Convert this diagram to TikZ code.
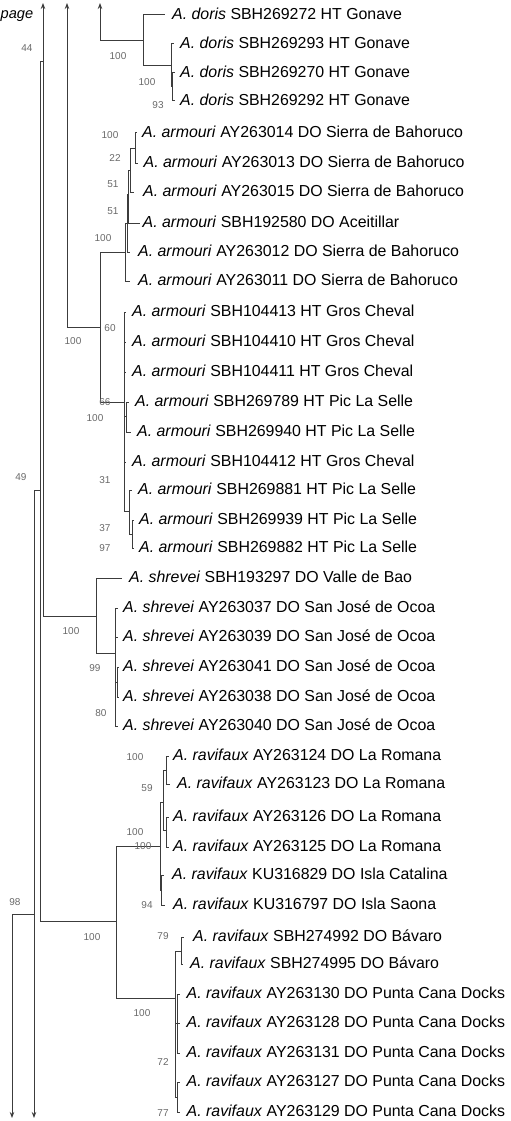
\documentclass[tikz,border=0pt]{standalone}
\usepackage{fontspec}
\setmainfont{Liberation Sans}
\usetikzlibrary{arrows.meta}
\definecolor{branch}{RGB}{60,60,60}
\definecolor{lbl}{RGB}{105,105,105}
\tikzset{
  br/.style={draw=branch, line width=1pt},
  offpage/.style={draw=branch, line width=1pt, -{Stealth[length=6pt,width=4.5pt]}},
  tiptext/.style={anchor=base west, inner sep=0pt, font=\fontsize{15.9}{18}\selectfont},
  support/.style={anchor=center, inner sep=0pt, text=lbl, font=\fontsize{10}{12}\selectfont},
}
\newcommand{\tiplab}[6]{%
  \coordinate (e#1) at (#2,#3);
  \node[tiptext] (t#1) at (#4,#3+4.5) {\textit{A. #5} #6};}
\begin{document}
\begin{tikzpicture}[x=1pt,y=-1pt]
\useasboundingbox (0,0) rectangle (511,1121);
% off-page ends
\coordinate (a43) at (43,3);
\coordinate (a67) at (67,3);
\coordinate (a100) at (100,3);
\coordinate (b12) at (12,1118);
\coordinate (b34) at (34,1118);
% backbone
\coordinate (B) at (43,62);
\coordinate (A) at (40,490);
\coordinate (C) at (34,914);
\coordinate (D) at (12,914);
\coordinate (E) at (67,327);
\coordinate (F) at (100,41);
% doris
\coordinate (Dor) at (143,41);
\coordinate (D2) at (171,66);
\coordinate (D3) at (172.5,87);
% armouri
\coordinate (G) at (100,327);
\coordinate (N5) at (125.5,252);
\coordinate (N4) at (127,223);
\coordinate (N3) at (128.5,194);
\coordinate (N2) at (130,170);
\coordinate (N1) at (135,148);
\coordinate (H) at (124,402);
\coordinate (H1) at (126.5,416);
\coordinate (H2) at (129.5,511);
\coordinate (H3) at (132,534);
% shrevei
\coordinate (S) at (96,616);
\coordinate (S2) at (115,653);
\coordinate (S3) at (117,682);
% ravifaux
\coordinate (R) at (116,921);
\coordinate (R1) at (160,846);
\coordinate (R1a) at (163,802);
\coordinate (R1c) at (166,770);
\coordinate (R1d) at (166,830);
\coordinate (R1b) at (161.5,890);
\coordinate (R2) at (175,998);
\coordinate (R2a) at (181,951);
\coordinate (R2c) at (177,1023);
\coordinate (R2b) at (177.5,1097);

% tips
\tiplab{1}{165}{15}{172}{doris}{SBH269272 HT Gonave}
\tiplab{2}{174}{44}{180}{doris}{SBH269293 HT Gonave}
\tiplab{3}{174.5}{73}{180}{doris}{SBH269270 HT Gonave}
\tiplab{4}{174.5}{101}{180}{doris}{SBH269292 HT Gonave}
\tiplab{5}{137}{133}{142}{armouri}{AY263014 DO Sierra de Bahoruco}
\tiplab{6}{137.5}{163}{143.5}{armouri}{AY263013 DO Sierra de Bahoruco}
\tiplab{7}{133.5}{192}{143}{armouri}{AY263015 DO Sierra de Bahoruco}
\tiplab{8}{140}{223}{142.5}{armouri}{SBH192580 DO Aceitillar}
\tiplab{9}{130}{252}{138}{armouri}{AY263012 DO Sierra de Bahoruco}
\tiplab{10}{130}{281}{138}{armouri}{AY263011 DO Sierra de Bahoruco}
\tiplab{11}{126}{312}{132}{armouri}{SBH104413 HT Gros Cheval}
\tiplab{12}{126}{342}{132}{armouri}{SBH104410 HT Gros Cheval}
\tiplab{13}{126}{372}{132}{armouri}{SBH104411 HT Gros Cheval}
\tiplab{14}{129}{402}{135}{armouri}{SBH269789 HT Pic La Selle}
\tiplab{15}{131}{432}{137}{armouri}{SBH269940 HT Pic La Selle}
\tiplab{16}{126}{462}{132}{armouri}{SBH104412 HT Gros Cheval}
\tiplab{17}{132}{490}{138}{armouri}{SBH269881 HT Pic La Selle}
\tiplab{18}{134}{520}{139}{armouri}{SBH269939 HT Pic La Selle}
\tiplab{19}{134}{548}{139}{armouri}{SBH269882 HT Pic La Selle}
\tiplab{20}{122}{578}{129}{shrevei}{SBH193297 DO Valle de Bao}
\tiplab{21}{117.5}{608}{123}{shrevei}{AY263037 DO San José de Ocoa}
\tiplab{22}{117.5}{637}{123}{shrevei}{AY263039 DO San José de Ocoa}
\tiplab{23}{119}{667}{123}{shrevei}{AY263041 DO San José de Ocoa}
\tiplab{24}{119}{697}{123}{shrevei}{AY263038 DO San José de Ocoa}
\tiplab{25}{117.5}{726}{123}{shrevei}{AY263040 DO San José de Ocoa}
\tiplab{26}{168.5}{756}{173}{ravifaux}{AY263124 DO La Romana}
\tiplab{27}{170}{784}{177}{ravifaux}{AY263123 DO La Romana}
\tiplab{28}{168.5}{817}{173}{ravifaux}{AY263126 DO La Romana}
\tiplab{29}{168.5}{847}{173}{ravifaux}{AY263125 DO La Romana}
\tiplab{30}{164}{875}{172}{ravifaux}{KU316829 DO Isla Catalina}
\tiplab{31}{165}{905}{173}{ravifaux}{KU316797 DO Isla Saona}
\tiplab{32}{184}{937}{193}{ravifaux}{SBH274992 DO Bávaro}
\tiplab{33}{183}{964}{190}{ravifaux}{SBH274995 DO Bávaro}
\tiplab{34}{180}{994}{186.5}{ravifaux}{AY263130 DO Punta Cana Docks}
\tiplab{35}{180}{1023}{186.5}{ravifaux}{AY263128 DO Punta Cana Docks}
\tiplab{36}{180}{1053}{186.5}{ravifaux}{AY263131 DO Punta Cana Docks}
\tiplab{37}{180}{1082}{186.5}{ravifaux}{AY263127 DO Punta Cana Docks}
\tiplab{38}{180}{1112}{186.5}{ravifaux}{AY263129 DO Punta Cana Docks}

% header fragment
\node[anchor=base west, inner sep=0pt, font=\fontsize{14.6}{17}\selectfont\itshape] (pg) at (0.5,18.5) {page};

% backbone connectors
\draw[offpage] (B) -- (a43);
\draw[br] (A) |- (B);
\draw[br] (A) |- (R);
\draw[br] (C) |- (A);
\draw[offpage] (C) -- (b34);
\draw[br] (D) -- (C);
\draw[offpage] (D) -- (b12);
\draw[offpage] (E) -- (a67);
\draw[br] (E) -- (G);
\draw[offpage] (F) -- (a100);
\draw[br] (F) -- (Dor);
\draw[br] (B) |- (S);

% doris
\draw[br] (Dor) |- (e1);
\draw[br] (Dor) |- (D2);
\draw[br] (D2) |- (e2);
\draw[br] (D2) |- (D3);
\draw[br] (D3) |- (e3);
\draw[br] (D3) |- (e4);

% armouri
\draw[br] (G) |- (N5);
\draw[br] (G) |- (H);
\draw[br] (N5) |- (N4);
\draw[br] (N5) |- (e10);
\draw[br] (N4) |- (N3);
\draw[br] (N4) |- (e9);
\draw[br] (N3) |- (N2);
\draw[br] (N3) |- (e8);
\draw[br] (N2) |- (N1);
\draw[br] (N2) |- (e7);
\draw[br] (N1) |- (e5);
\draw[br] (N1) |- (e6);
\draw[br] (H) |- (e11);
\draw[br] (H) |- (e12);
\draw[br] (H) |- (e13);
\draw[br] (H) |- (H1);
\draw[br] (H) |- (e16);
\draw[br] (H) |- (H2);
\draw[br] (H1) |- (e14);
\draw[br] (H1) |- (e15);
\draw[br] (H2) |- (e17);
\draw[br] (H2) |- (H3);
\draw[br] (H3) |- (e18);
\draw[br] (H3) |- (e19);

% shrevei
\draw[br] (S) |- (e20);
\draw[br] (S) |- (S2);
\draw[br] (S2) |- (e21);
\draw[br] (S2) |- (e22);
\draw[br] (S2) |- (S3);
\draw[br] (S2) |- (e25);
\draw[br] (S3) |- (e23);
\draw[br] (S3) |- (e24);

% ravifaux
\draw[br] (R) |- (R1);
\draw[br] (R) |- (R2);
\draw[br] (R1) |- (R1a);
\draw[br] (R1) |- (R1b);
\draw[br] (R1a) |- (R1c);
\draw[br] (R1a) |- (R1d);
\draw[br] (R1c) |- (e26);
\draw[br] (R1c) |- (e27);
\draw[br] (R1d) |- (e28);
\draw[br] (R1d) |- (e29);
\draw[br] (R1b) |- (e30);
\draw[br] (R1b) |- (e31);
\draw[br] (R2) |- (R2a);
\draw[br] (R2) |- (R2c);
\draw[br] (R2) |- (R2b);
\draw[br] (R2a) |- (e32);
\draw[br] (R2a) |- (e33);
\draw[br] (R2c) |- (e34);
\draw[br] (R2c) |- (e35);
\draw[br] (R2c) |- (e36);
\draw[br] (R2b) |- (e37);
\draw[br] (R2b) |- (e38);

% support values
\node[support] (s1) at (27,48) {44};
\node[support] (s2) at (21,477) {49};
\node[support] (s3) at (15,902) {98};
\node[support] (s4) at (118,56) {100};
\node[support] (s5) at (147,82) {100};
\node[support] (s6) at (158,105) {93};
\node[support] (s7) at (110,135) {100};
\node[support] (s8) at (115,158) {22};
\node[support] (s9) at (113,184) {51};
\node[support] (s10) at (113,211) {51};
\node[support] (s11) at (103,238) {100};
\node[support] (s12) at (110,328) {60};
\node[support] (s13) at (73,341) {100};
\node[support] (s14) at (105,402) {66};
\node[support] (s15) at (95,418) {100};
\node[support] (s16) at (105,480) {31};
\node[support] (s17) at (105,528) {37};
\node[support] (s18) at (105,548) {97};
\node[support] (s19) at (71,631) {100};
\node[support] (s20) at (95,668) {99};
\node[support] (s21) at (101,713) {80};
\node[support] (s22) at (135,757) {100};
\node[support] (s23) at (147,788) {59};
\node[support] (s24) at (135,832) {100};
\node[support] (s25) at (143,846) {100};
\node[support] (s26) at (147,905) {94};
\node[support] (s27) at (92,937) {100};
\node[support] (s28) at (163,936) {79};
\node[support] (s29) at (142,1013) {100};
\node[support] (s30) at (163,1062) {72};
\node[support] (s31) at (163,1113) {77};
\end{tikzpicture}
\end{document}
